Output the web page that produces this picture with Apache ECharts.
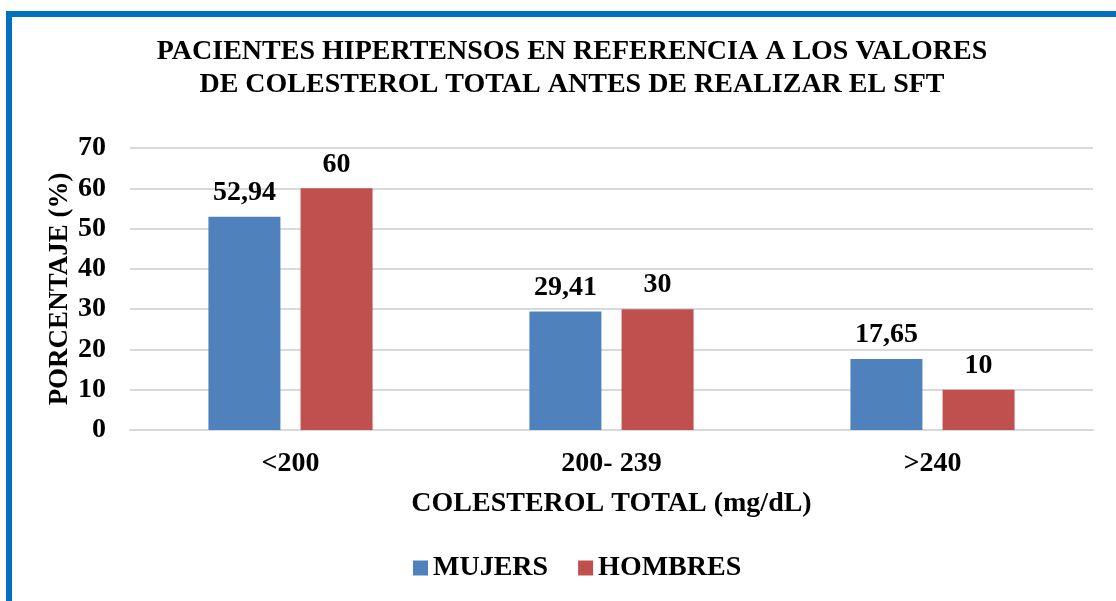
<!DOCTYPE html>
<html lang="es">
<head>
    <meta charset="UTF-8">
    <title>Colesterol total</title>
    <script src="https://cdn.jsdelivr.net/npm/echarts@6/dist/echarts.min.js"></script>
    <style>
        body {
            margin: 0;
            padding: 0;
            background-color: #fff;
        }
        .frame {
            position: absolute;
            left: 6px;
            top: 11px;
            width: 1200px;
            height: 700px;
            border-top: 6px solid #0070C0;
            border-left: 6px solid #0070C0;
        }
        #chart {
            position: absolute;
            left: 0;
            top: 0;
            width: 1116px;
            height: 601px;
        }
    </style>
</head>
<body>
    <div class="frame"></div>
    <div id="chart"></div>

    <script>
        var categories = ['<200', '200- 239', '>240'];
        var mujeres = [52.94, 29.41, 17.65];
        var hombres = [60, 30, 10];

        var serif = '"Liberation Serif", "Times New Roman", serif';

        function fmt(p) {
            return String(p.value).replace('.', ',');
        }

        var chart = echarts.init(document.getElementById('chart'));

        var option = {
            animation: false,
            title: {
                text: 'PACIENTES HIPERTENSOS EN REFERENCIA A LOS VALORES\nDE COLESTEROL TOTAL ANTES DE REALIZAR EL SFT',
                left: 567,
                top: 30,
                textAlign: 'center',
                textStyle: {
                    fontFamily: serif,
                    fontWeight: 'bold',
                    fontSize: 28,
                    lineHeight: 33,
                    color: '#000'
                }
            },
            legend: {
                bottom: 14,
                left: 408,
                itemWidth: 15,
                itemHeight: 15,
                itemGap: 30,
                icon: 'rect',
                textStyle: {
                    fontFamily: serif,
                    fontWeight: 'bold',
                    fontSize: 28,
                    color: '#000'
                }
            },
            grid: {
                left: 130,
                right: 23,
                top: 148,
                bottom: 171
            },
            xAxis: {
                type: 'category',
                data: categories,
                name: 'COLESTEROL TOTAL (mg/dL)',
                nameLocation: 'middle',
                nameGap: 60,
                nameTextStyle: {
                    fontFamily: serif,
                    fontWeight: 'bold',
                    fontSize: 28,
                    color: '#000'
                },
                axisLine: { lineStyle: { color: '#d9d9d9', width: 2 } },
                axisTick: { show: false },
                axisLabel: {
                    margin: 20,
                    fontFamily: serif,
                    fontWeight: 'bold',
                    fontSize: 28,
                    color: '#000'
                }
            },
            yAxis: {
                type: 'value',
                min: 0,
                max: 70,
                interval: 10,
                name: 'PORCENTAJE (%)',
                nameLocation: 'middle',
                nameGap: 56,
                nameMoveOverlap: false,
                nameTextStyle: {
                    fontFamily: serif,
                    fontWeight: 'bold',
                    fontSize: 27,
                    color: '#000'
                },
                axisLine: { show: false },
                axisTick: { show: false },
                splitLine: { lineStyle: { color: '#d9d9d9', width: 2 } },
                axisLabel: {
                    margin: 24,
                    fontFamily: serif,
                    fontWeight: 'bold',
                    fontSize: 28,
                    color: '#000'
                }
            },
            series: [
                {
                    name: 'MUJERS',
                    type: 'bar',
                    data: mujeres,
                    barWidth: 72,
                    barGap: '28%',
                    itemStyle: { color: '#4F81BD' },
                    label: {
                        show: true,
                        position: 'top',
                        distance: 10,
                        formatter: fmt,
                        fontFamily: serif,
                        fontWeight: 'bold',
                        fontSize: 28,
                        color: '#000'
                    }
                },
                {
                    name: 'HOMBRES',
                    type: 'bar',
                    data: hombres,
                    barWidth: 72,
                    itemStyle: { color: '#C0504D' },
                    label: {
                        show: true,
                        position: 'top',
                        distance: 10,
                        formatter: fmt,
                        fontFamily: serif,
                        fontWeight: 'bold',
                        fontSize: 28,
                        color: '#000'
                    }
                }
            ]
        };

        chart.setOption(option);
    </script>
</body>
</html>
